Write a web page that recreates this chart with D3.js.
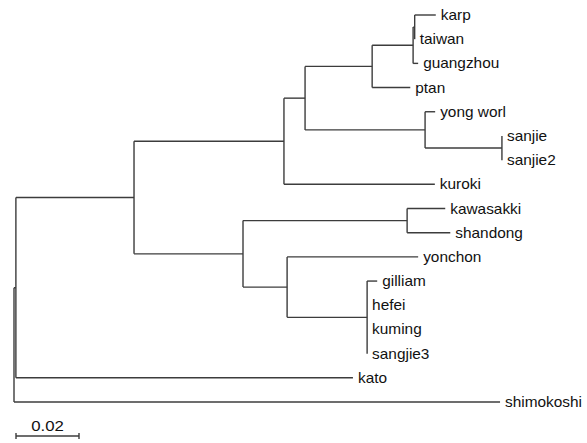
<!DOCTYPE html>
<html><head><meta charset="utf-8">
<script src="https://cdn.jsdelivr.net/npm/d3@7"></script>
<style>body{margin:0;background:#fff}svg{display:block}</style>
</head><body>
<script>
// Tree data: node ids, parent ids, branch lengths (substitutions/site)
const nodeIds = ["root","A","shimokoshi","B","kato","H","D","I","kuroki","J","K","L","ptan","M","guangzhou","karp","taiwan","yong worl","N","sanjie","sanjie2","E","F","kawasakki","shandong","yonchon","G","gilliam","hefei","kuming","sangjie3"];
const parentIds = ["","root","root","A","A","B","B","H","H","I","I","J","J","L","L","M","M","K","K","N","N","D","D","E","E","F","F","G","G","G","G"];
const branchLengths = [0,0.0006,0.1543,0.0375,0.1070,0.0476,0.0346,0.0067,0.0479,0.0213,0.0381,0.0130,0.0121,0.0005,0.0016,0.0067,0.0,0.0032,0.0244,0,0,0.0521,0.0140,0.0121,0.0137,0.0416,0.0254,0.0032,0,0,0];
const scaleBarValue = 0.02;
const scaleBarLabel = "0.02";

const W = 587, H = 443;
const svg = d3.select("body").append("svg").attr("width", W).attr("height", H);

const table = nodeIds.map((id, i) => ({id, parent: parentIds[i] || null, len: branchLengths[i]}));
const root = d3.stratify().id(d => d.id).parentId(d => d.parent)(table);
root.each(n => { n.dist = n.parent ? n.parent.dist + n.data.len : 0; });

const leaves = root.leaves();
const x = d3.scaleLinear().domain([0, 0.02]).range([14, 77]);
const y = d3.scalePoint().domain(leaves.map(d => d.id)).range([15, 402]);

root.eachAfter(n => {
  if (!n.children) n.y = y(n.id);
  else n.y = (n.children[0].y + n.children[n.children.length - 1].y) / 2;
});

const g = svg.append("g").attr("stroke", "#3c3c3c").attr("stroke-width", 1.4).attr("fill", "none");
root.descendants().forEach(n => {
  if (n.children) {
    g.append("line").attr("x1", x(n.dist)).attr("x2", x(n.dist))
      .attr("y1", n.children[0].y).attr("y2", n.children[n.children.length - 1].y);
  }
  if (n.parent) {
    g.append("line").attr("x1", x(n.parent.dist)).attr("x2", x(n.dist))
      .attr("y1", n.y).attr("y2", n.y);
  }
});

const labels = svg.append("g").attr("font-family", "'Liberation Sans', Arial, sans-serif")
  .attr("font-size", 14).attr("fill", "#111");
leaves.forEach(n => {
  const tx = x(n.dist) + 5;
  labels.append("text").attr("transform", `translate(${tx},${n.y}) scale(1.1,1)`)
    .attr("dy", "0.36em").text(n.id);
});

// scale bar
const sb = svg.append("g").attr("stroke", "#3c3c3c").attr("stroke-width", 1.4);
const bx0 = 16, bx1 = 16 + (x(scaleBarValue) - x(0)), by = 436;
sb.append("line").attr("x1", bx0).attr("x2", bx1).attr("y1", by).attr("y2", by);
sb.append("line").attr("x1", bx0).attr("x2", bx0).attr("y1", by - 3).attr("y2", by + 3);
sb.append("line").attr("x1", bx1).attr("x2", bx1).attr("y1", by - 3).attr("y2", by + 3);
svg.append("text").attr("transform", `translate(${(bx0 + bx1) / 2},431) scale(1.2,1)`)
  .attr("text-anchor", "middle").attr("font-family", "'Liberation Sans', Arial, sans-serif")
  .attr("font-size", 14).attr("fill", "#111").text(scaleBarLabel);
</script>
</body></html>
